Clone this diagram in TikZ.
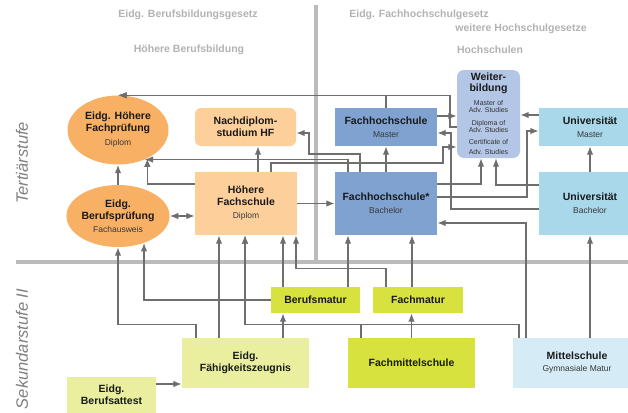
\documentclass[tikz,border=0pt]{standalone}
\usepackage{fontspec}
\setmainfont{Liberation Sans}
\usetikzlibrary{shapes.geometric,arrows.meta}

\definecolor{hbOrange}{HTML}{F7B064}
\definecolor{hbLight}{HTML}{FDD09B}
\definecolor{fhBlue}{HTML}{7FA2D0}
\definecolor{wbBlue}{HTML}{B3C6E6}
\definecolor{uniBlue}{HTML}{A8D8EA}
\definecolor{msBlue}{HTML}{D5ECF6}
\definecolor{maturGreen}{HTML}{D8E23F}
\definecolor{efzYellow}{HTML}{EAEFA0}
\definecolor{lineGray}{HTML}{6E6E6E}
\definecolor{barGray}{HTML}{BBBBBB}
\definecolor{headGray}{HTML}{B2B2B2}

\newcommand{\subtxt}[1]{{\fontsize{8.5}{10}\selectfont\mdseries\color{black!78}#1}}
\newcommand{\tinytxt}[1]{{\fontsize{7}{8}\selectfont\mdseries\color{black!80}#1}}

\begin{document}
\begin{tikzpicture}
            [x=1pt, y=-1pt,
            box/.style={rectangle, minimum width=102pt, minimum height=63pt, inner sep=0pt, align=center, font=\fontsize{10.5}{12}\selectfont\bfseries, text=black!90},
            oval/.style={box, ellipse, fill=hbOrange},
            flat/.style={box, minimum height=38pt},
            matur/.style={box, fill=maturGreen, minimum width=89pt, minimum height=26pt},
            arr/.style={lineGray, line width=1.3pt, -{Latex[length=8.5pt,width=6.5pt]}},
            darr/.style={arr, {Latex[length=8.5pt,width=6.5pt]}-{Latex[length=8.5pt,width=6.5pt]}},
            bar/.style={barGray, line width=4pt},
            head/.style={headGray, font=\fontsize{10.5}{12}\selectfont\bfseries},
            level/.style={black!50, rotate=90, font=\fontsize{16.5}{18}\selectfont\itshape}]

            \useasboundingbox (0,0) rectangle (628,412);

            % Bars between the levels
            \draw[bar] (316,5) -- (316,262);
            \draw[bar] (16,262) -- (628,262);

            % Headings
            \node[head] (bbg) at (188,15) {Eidg. Berufsbildungsgesetz};
            \node[head] (hbb) at (189,50) {Höhere Berufsbildung};
            \node[head] (fhg) at (419,15) {Eidg. Fachhochschulgesetz};
            \node[head] (hsg) at (521,29) {weitere Hochschulgesetze};
            \node[head] (hs) at (490,50) {Hochschulen};
            \node[level] (tert) at (22,163) {Tertiärstufe};
            \node[level] (sek) at (22,349) {Sekundarstufe II};

            % Tertiärstufe
            \node[oval, minimum width=101pt, minimum height=69pt] (hfp) at (118,130) {Eidg. Höhere\\Fachprüfung\\[2pt]\subtxt{Diplom}};
            \node[oval, minimum height=62pt] (bp) at (118,216) {Eidg.\\Berufsprüfung\\[1pt]\subtxt{Fachausweis}};
            \node[flat, fill=hbLight, minimum width=101pt, rounded corners=6pt] (nds) at (245.5,127) {Nachdiplom-\\studium HF};
            \node[box, fill=hbLight] (hf) at (246,203.5) {Höhere\\Fachschule\\[1pt]\subtxt{Diplom}};
            \node[flat, fill=fhBlue] (fhm) at (386,127) {Fachhochschule\\[1pt]\subtxt{Master}};
            \node[box, fill=fhBlue] (fhb) at (386,203.5) {Fachhochschule*\\[1pt]\subtxt{Bachelor}};
            \node[box, fill=wbBlue, minimum width=63pt, minimum height=88pt, rounded corners=7pt] (wb) at (488.5,114)
                {Weiter-\\[-1pt]bildung\\[1.7pt]\tinytxt{Master of}\\[-5pt]\tinytxt{Adv. Studies}\\[1pt]\tinytxt{Diploma of}\\[-5pt]\tinytxt{Adv. Studies}\\[0pt]\tinytxt{Certificate of}\\[-2pt]\tinytxt{Adv. Studies}};
            \node[flat, fill=uniBlue] (unim) at (590,127) {Universität\\[1pt]\subtxt{Master}};
            \node[box, fill=uniBlue] (unib) at (590,203.5) {Universität\\[1pt]\subtxt{Bachelor}};

            % Sekundarstufe II
            \node[matur] (bm) at (315.5,300) {Berufsmatur};
            \node[matur, minimum width=90pt] (fm) at (418,300) {Fachmatur};
            \node[box, fill=efzYellow, minimum width=127pt, minimum height=50pt] (efz) at (245.5,363) {Eidg.\\Fähigkeitszeugnis};
            \node[box, fill=maturGreen, minimum width=127pt, minimum height=50pt] (fms) at (411.5,363) {Fachmittelschule};
            \node[box, fill=msBlue, minimum width=128pt, minimum height=50pt] (ms) at (577,363) {Mittelschule\\[0pt]\subtxt{Gymnasiale Matur}};
            \node[box, fill=efzYellow, minimum width=89pt, minimum height=36pt] (eba) at (111.5,395) {Eidg.\\Berufsattest};

            % Paths in the Tertiärstufe
            \draw[arr] (bp) -- (hfp);
            \draw[darr] (bp.east) -- (bp.east -| hf.west);
            \draw[arr] ([xshift=12pt]hf.north) -- ([xshift=12pt]hf.north |- nds.south);
            \draw[arr] (hf.west |- 0,184) -| (hfp.-44);
            \draw[arr] ([xshift=25pt]hf.north) |- (443,163) |- (wb.west |- 0,147);
            \draw[arr] (hf) -- (fhb);
            \draw[arr] (fhm.north) |- (hfp.north);
            \draw[arr] (wb.west |- 0,127) -- (450,127) |- (hfp.north);
            \draw[arr] (fhm.east |- 0,116) -- (wb.west |- 0,116);
            \draw[arr] (fhb) -- (fhm);
            \draw[arr] ([xshift=-38pt]fhb.north) |- (hfp.-48);
            \draw[arr] ([xshift=-26pt]fhb.north) |- (309,154) |- (nds.east |- 0,133);
            \draw[arr] (fhb.east |- 0,184) -| ([xshift=-7.5pt]wb.south);
            \draw[arr] (fhb.east |- 0,197) -| (527,131) -- (unim.west |- 0,131);
            \draw[arr] (unib.west |- 0,185) -| ([xshift=7.5pt]wb.south);
            \draw[arr] (unib.west |- 0,209) -| (451,133) -- (fhm.east |- 0,133);
            \draw[arr] (unim.west |- 0,115) -- (wb.east |- 0,115);
            \draw[arr] (unib) -- (unim);

            % Paths from the Sekundarstufe II
            \draw[arr] (eba.east |- 0,384) -- (efz.west |- 0,384);
            \draw[arr] ([xshift=-49.5pt]efz.north) -- ++(0,-13) -| (bp.south);
            \draw[arr] ([xshift=-26.5pt]efz.north) -- ([xshift=-26.5pt]efz.north |- hf.south);
            \draw[arr] ([xshift=37.5pt]efz.north) -- ([xshift=37.5pt]efz.north |- bm.south);
            \draw[arr] (bm.west) -| (bp.-46);
            \draw[arr] ([xshift=-32.5pt]bm.north) -- ([xshift=-32.5pt]bm.north |- hf.south);
            \draw[arr] ([xshift=32.5pt]bm.north) -- ([xshift=32.5pt]bm.north |- fhb.south);
            \draw[arr] ([xshift=-32pt]fm.north) -- ++(0,-18) -| ([xshift=50pt]hf.south);
            \draw[arr] ([xshift=-6pt]fm.north) -- ([xshift=-6pt]fm.north |- fhb.south);
            \draw[arr] (fms.north) -- (fms.north |- fm.south);
            \draw[arr] ([xshift=-50.5pt]fms.north) -- ++(0,-13) -| (hf.south -| 245,0);
            \draw[arr] ([xshift=-58pt]ms.north) -- ++(0,-13) -| (hf.south -| 245,0);
            \draw[arr] ([xshift=-51pt]ms.north) |- (fhb.east |- 0,223);
            \draw[arr] ([xshift=13pt]ms.north) -- ([xshift=13pt]ms.north |- unib.south);

        \end{tikzpicture}
\end{document}
